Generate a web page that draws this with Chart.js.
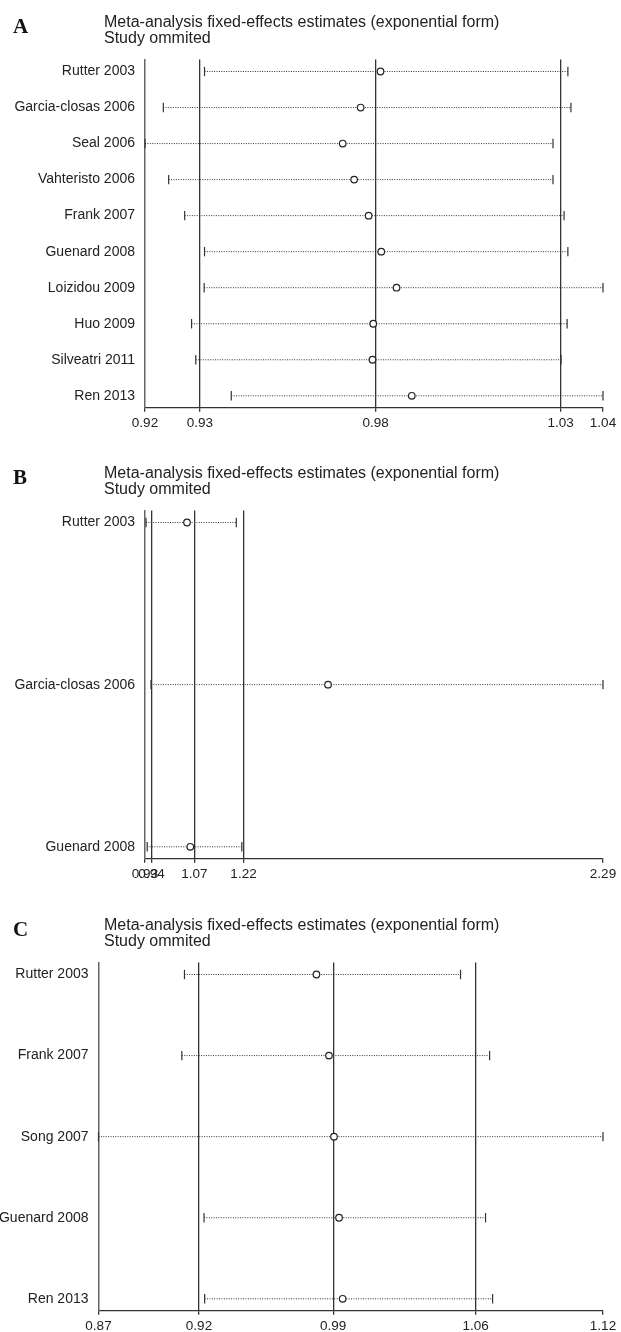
<!DOCTYPE html>
<html>
<head>
<meta charset="utf-8">
<script src="https://cdn.jsdelivr.net/npm/chart.js@4.4.1/dist/chart.umd.min.js"></script>
<style>
body { margin:0; width:621px; height:1332px; overflow:hidden; background:#fff; }
.panel { position:absolute; left:0; width:621px; }
.panel canvas { position:absolute; left:0; top:0; }
.letter { position:absolute; left:13px; top:16px; font:bold 21px/21px "Liberation Serif", "Times New Roman", serif; color:#111; }
.title { position:absolute; left:104px; top:14px; font:16px/15.5px "Liberation Sans", Arial, sans-serif; color:#222; white-space:nowrap; }
</style>
</head>
<body>
<div class="panel" style="top:0px;height:451px">
  <canvas id="chartA" width="621" height="451"></canvas>
  <div class="letter">A</div>
  <div class="title">Meta-analysis fixed-effects estimates (exponential form)<br>Study ommited</div>
</div>
<div class="panel" style="top:451px;height:451px">
  <canvas id="chartB" width="621" height="451"></canvas>
  <div class="letter">B</div>
  <div class="title">Meta-analysis fixed-effects estimates (exponential form)<br>Study ommited</div>
</div>
<div class="panel" style="top:903px;height:429px">
  <canvas id="chartC" width="621" height="429"></canvas>
  <div class="letter">C</div>
  <div class="title">Meta-analysis fixed-effects estimates (exponential form)<br>Study ommited</div>
</div>
<script>
// panel A
var studiesA = ['Rutter 2003', 'Garcia-closas 2006', 'Seal 2006', 'Vahteristo 2006', 'Frank 2007',
    'Guenard 2008', 'Loizidou 2009', 'Huo 2009', 'Silveatri 2011', 'Ren 2013'];
var lowerA = [0.9356, 0.9248, 0.9200, 0.9262, 0.9304, 0.9356, 0.9355, 0.9322, 0.9333, 0.9426];
var estA   = [0.9817, 0.9765, 0.9718, 0.9748, 0.9786, 0.9819, 0.9859, 0.9798, 0.9796, 0.9899];
var upperA = [1.0308, 1.0316, 1.0269, 1.0269, 1.0298, 1.0308, 1.0400, 1.0306, 1.0290, 1.0400];
var rangeA = [0.92, 1.04];
var tickValsA = [0.92, 0.9344, 0.9804, 1.0289, 1.04];
var tickLabelsA = ['0.92', '0.93', '0.98', '1.03', '1.04'];

// panel B
var studiesB = ['Rutter 2003', 'Garcia-closas 2006', 'Guenard 2008'];
var lowerB = [0.928, 0.9429, 0.9316];
var estB   = [1.0502, 1.4705, 1.060];
var upperB = [1.1971, 2.29, 1.2135];
var rangeB = [0.925, 2.29];
var tickValsB = [0.925, 0.9444, 1.0719, 1.2186, 2.29];
var tickLabelsB = ['0.93', '0.94', '1.07', '1.22', '2.29'];

// panel C
var studiesC = ['Rutter 2003', 'Frank 2007', 'Song 2007', 'Guenard 2008', 'Ren 2013'];
var lowerC = [0.9126, 0.9113, 0.87, 0.9223, 0.9226];
var estC   = [0.9780, 0.9842, 0.9867, 0.9892, 0.9910];
var upperC = [1.0494, 1.0638, 1.12, 1.0618, 1.0653];
var rangeC = [0.87, 1.12];
var tickValsC = [0.87, 0.9198, 0.9863, 1.0569, 1.12];
var tickLabelsC = ['0.87', '0.92', '0.99', '1.06', '1.12'];

var plotTop = 59.5;
var axisY = 407.8;

function plotPanel(id, studies, lower, est, upper, range, tickVals, tickLabels, leftPx) {
    var canvas = document.getElementById(id);
    var height = canvas.height;
    var n = studies.length;
    var pad = 12 / (axisY - plotTop - 24) * (n - 1);

    var datasets = [];
    // circles first so they sit on top
    datasets.push({
        data: est.map((v, i) => ({x: v, y: i})),
        pointStyle: 'circle',
        pointRadius: 3.3,
        pointBackgroundColor: '#fff',
        pointBorderColor: '#222',
        pointBorderWidth: 1.2,
        showLine: false,
        clip: false
    });
    // end caps
    datasets.push({
        data: lower.map((v, i) => ({x: v, y: i})).concat(upper.map((v, i) => ({x: v, y: i}))),
        pointStyle: 'line',
        pointRotation: 90,
        pointRadius: 4.7,
        pointBorderColor: '#333',
        pointBorderWidth: 1.2,
        showLine: false,
        clip: false
    });
    // dotted CI lines
    studies.forEach((s, i) => {
        datasets.push({
            data: [{x: lower[i], y: i}, {x: upper[i], y: i}],
            showLine: true,
            borderColor: '#333',
            borderWidth: 1,
            borderDash: [1, 1.4],
            pointRadius: 0,
            clip: false
        });
    });

    new Chart(canvas.getContext('2d'), {
        type: 'scatter',
        data: {datasets: datasets},
        options: {
            responsive: false,
            animation: false,
            events: [],
            layout: {padding: {top: plotTop, right: 18, left: 0, bottom: 0}},
            plugins: {legend: {display: false}, tooltip: {enabled: false}},
            scales: {
                x: {
                    type: 'linear',
                    min: range[0],
                    max: range[1],
                    afterBuildTicks: a => { a.ticks = tickVals.map(v => ({value: v})); },
                    afterFit: s => { s.height = height - axisY; },
                    ticks: {
                        autoSkip: false,
                        maxRotation: 0,
                        padding: 3,
                        color: '#222',
                        font: {family: 'Liberation Sans', size: 13.5},
                        callback: (v, i) => tickLabels[i]
                    },
                    grid: {
                        color: c => (c.index === 0 || c.index === tickVals.length - 1) ? 'rgba(0,0,0,0)' : '#333',
                        lineWidth: 1.3,
                        tickColor: '#333',
                        tickLength: 4
                    },
                    border: {display: true, color: '#333', width: 1.3}
                },
                y: {
                    type: 'linear',
                    reverse: true,
                    min: -pad,
                    max: n - 1 + pad,
                    afterBuildTicks: a => { a.ticks = studies.map((s, i) => ({value: i})); },
                    afterFit: s => { s.width = leftPx; },
                    ticks: {
                        autoSkip: false,
                        padding: 10,
                        color: '#222',
                        font: {family: 'Liberation Sans', size: 14},
                        callback: (v, i) => studies[i]
                    },
                    grid: {display: true, drawOnChartArea: false, drawTicks: false},
                    border: {display: true, color: '#666', width: 1.5}
                }
            }
        }
    });
}

plotPanel('chartA', studiesA, lowerA, estA, upperA, rangeA, tickValsA, tickLabelsA, 145);
plotPanel('chartB', studiesB, lowerB, estB, upperB, rangeB, tickValsB, tickLabelsB, 145);
plotPanel('chartC', studiesC, lowerC, estC, upperC, rangeC, tickValsC, tickLabelsC, 98.5);
</script>
</body>
</html>
